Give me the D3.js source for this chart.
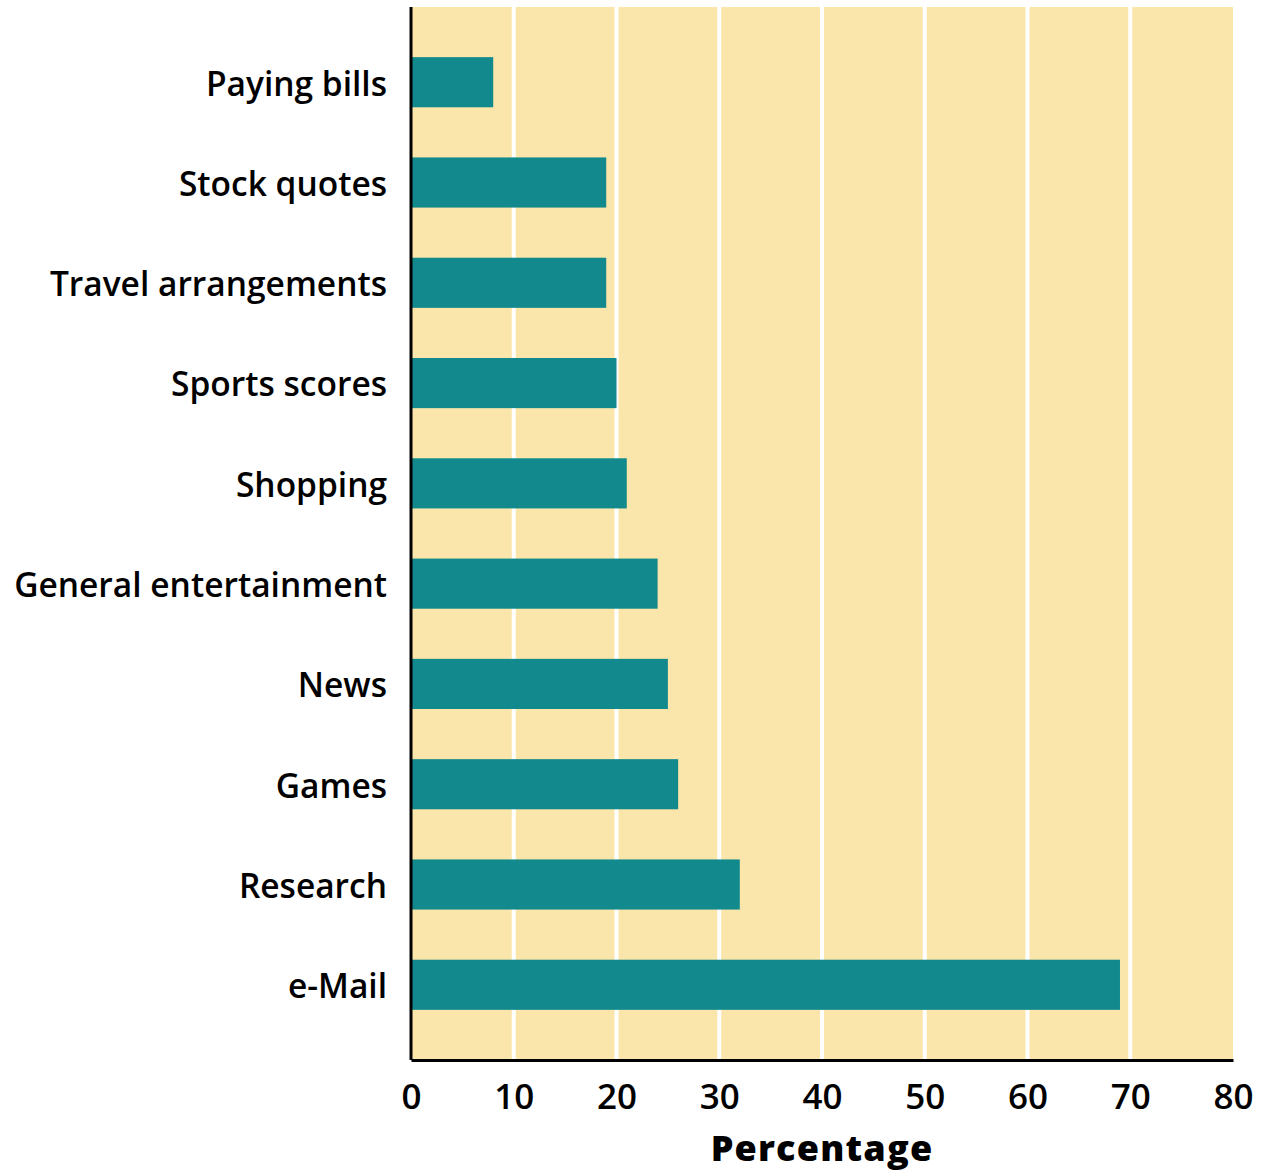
<!DOCTYPE html>
<html>
<head>
<meta charset="utf-8">
<script src="https://cdn.jsdelivr.net/npm/d3@7"></script>
<style>
  html, body { margin: 0; padding: 0; background: #ffffff; }
  svg { display: block; }
</style>
</head>
<body>
<div id="chart"></div>
<script>
const categories = ["Paying bills", "Stock quotes", "Travel arrangements", "Sports scores", "Shopping", "General entertainment", "News", "Games", "Research", "e-Mail"];
const values = [8, 19, 19, 20, 21, 24, 25, 26, 32, 69];
const xTicks = [0, 10, 20, 30, 40, 50, 60, 70, 80];
const xTitle = "Percentage";

const W = 1270, H = 1171;
const margin = { top: 7, right: 37, bottom: 111, left: 411 };
const iw = W - margin.left - margin.right;
const ih = H - margin.top - margin.bottom;

const svg = d3.select("#chart").append("svg").attr("width", W).attr("height", H);
const g = svg.append("g").attr("transform", `translate(${margin.left},${margin.top})`);

const x = d3.scaleLinear().domain([0, 80]).range([0, iw]);
const y = d3.scaleBand().domain(categories).range([0, ih]).paddingInner(0.5).paddingOuter(0.5);

g.append("rect").attr("x", 0).attr("y", 0).attr("width", iw).attr("height", ih).attr("fill", "#FAE6AA");

g.selectAll("line.grid").data(xTicks.filter(d => d > 0 && d < 80)).enter().append("line")
  .attr("class", "grid")
  .attr("x1", d => x(d)).attr("x2", d => x(d))
  .attr("y1", 0).attr("y2", ih)
  .attr("stroke", "#ffffff").attr("stroke-width", 4);

g.selectAll("rect.bar").data(categories).enter().append("rect")
  .attr("class", "bar")
  .attr("x", 0)
  .attr("y", d => y(d))
  .attr("width", (d, i) => x(values[i]))
  .attr("height", y.bandwidth())
  .attr("fill", "#12898C");

const font = "'Open Sans', 'Liberation Sans', sans-serif";

const xAxis = g.append("g").attr("transform", `translate(0,${ih})`)
  .call(d3.axisBottom(x).tickValues(xTicks).tickSize(0).tickPadding(24).tickFormat(d3.format("d")));
xAxis.select(".domain").attr("stroke", "#000").attr("stroke-width", 3);
xAxis.selectAll("text").attr("font-family", font).attr("font-size", 35).attr("font-weight", 600).attr("fill", "#000");

const yAxis = g.append("g")
  .call(d3.axisLeft(y).tickSize(0).tickPadding(24));
yAxis.select(".domain").attr("stroke", "#000").attr("stroke-width", 3).attr("d", `M0,0V${ih}`);
yAxis.selectAll("text").attr("font-family", font).attr("font-size", 33.5).attr("font-weight", 600).attr("fill", "#000").attr("dy", "0.4em");

svg.append("text")
  .attr("x", margin.left + x(40))
  .attr("y", 1161)
  .attr("text-anchor", "middle")
  .attr("font-family", font)
  .attr("font-size", 36)
  .attr("font-weight", 800)
  .attr("letter-spacing", 1.2)
  .attr("fill", "#000")
  .text(xTitle);
</script>
</body>
</html>
